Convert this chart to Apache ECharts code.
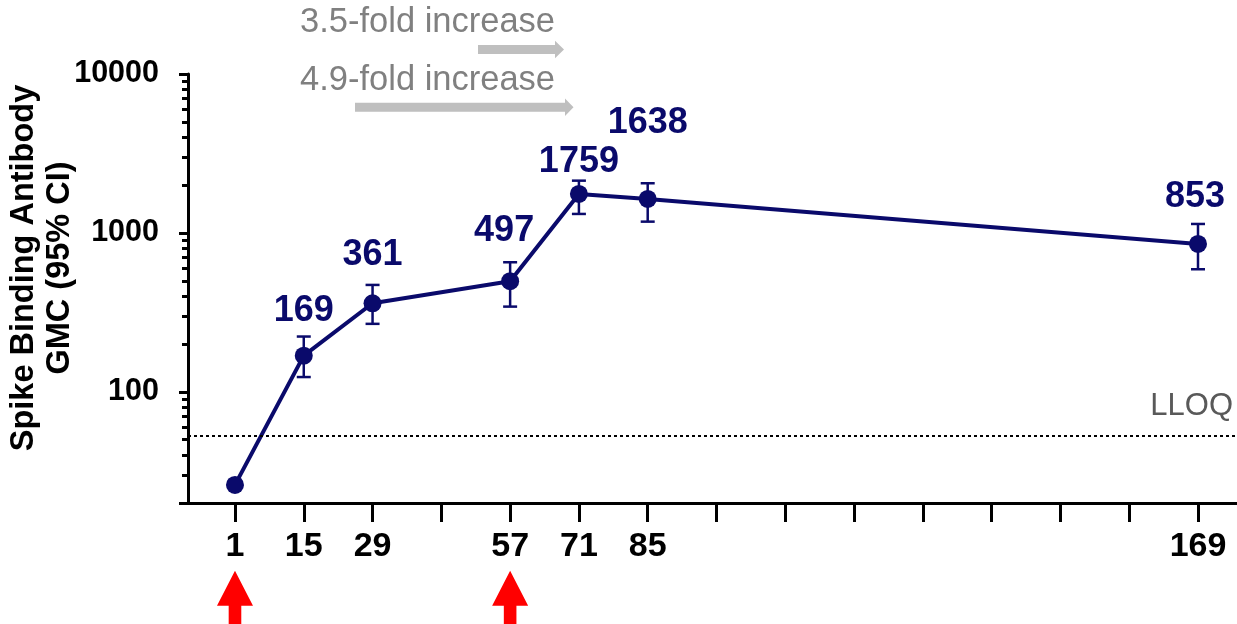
<!DOCTYPE html>
<html>
<head>
<meta charset="utf-8">
<title>Spike Binding Antibody GMC</title>
<script src="https://cdn.jsdelivr.net/npm/echarts@6/dist/echarts.min.js"></script>
<style>
  html, body { margin: 0; padding: 0; background: #ffffff; }
  #chart { width: 1237px; height: 624px; }
</style>
</head>
<body>
<div id="chart"></div>
<script>
// Study days with a blood draw, and the geometric mean concentration at each
const days = [1, 15, 29, 57, 71, 85, 169];
const tickLabels = ['1', '15', '29', '57', '71', '85', '169'];
const gmc = [26, 169, 361, 497, 1759, 1638, 853];
// 95% confidence limits (none drawn for day 1)
const ciLow = [null, 124, 268, 344, 1317, 1178, 591];
const ciHigh = [null, 223, 471, 654, 2133, 2054, 1139];
// Lower limit of quantification
const lloq = 53;
// Vaccination days (red arrows under the axis)
const doseDays = [1, 57];
// Fold-change notes above the plot
const foldNotes = ['3.5-fold increase', '4.9-fold increase'];
// Labelled y values
const yTickValues = [100, 1000, 10000];

const NAVY = '#0a0a6b';
const FONT = '"Liberation Sans", Arial, Helvetica, sans-serif';

// Time axis: one tick every 14 days up to day 85, then 8 equal steps to day 169
const slotOf = d => d <= 85 ? (d - 1) / 14 : 6 + (d - 85) / 10.5;
const tickSlots = Array.from({ length: 15 }, (_, i) => i);
const labelSlots = days.map(slotOf);

// Minor ticks on the log axis: 2..9 within each decade
const minorTicks = [];
for (let p = 1; p <= 3; p++) {
  for (let m = 2; m <= 9; m++) {
    const v = m * Math.pow(10, p);
    if (v > 20 && v < 10000) minorTicks.push(v);
  }
}

// Per-point placement of the value labels (pixels from the marker centre)
const labelOffsets = [[0, 0], [0, -45], [0, -48], [-6, -50], [0, -32], [0, -76], [-3, -47]];

const chart = echarts.init(document.getElementById('chart'), null, { renderer: 'canvas' });

const lineData = days.map((d, i) => ({
  value: [slotOf(d), gmc[i]],
  label: { show: i > 0, offset: labelOffsets[i] }
}));

const ciData = days
  .map((d, i) => [slotOf(d), ciLow[i], ciHigh[i]])
  .filter(r => r[1] != null);

const option = {
  backgroundColor: '#ffffff',
  animation: false,
  grid: { left: 188, right: 0, top: 74, bottom: 121, outerBoundsMode: 'none' },
  xAxis: {
    type: 'value',
    min: -0.683,
    max: 14.567,
    splitLine: { show: false },
    axisLine: { show: true, onZero: false, lineStyle: { color: '#000', width: 3 } },
    axisTick: { show: true, customValues: tickSlots, length: 19, lineStyle: { color: '#000', width: 3 } },
    axisLabel: {
      customValues: labelSlots,
      margin: 27,
      color: '#000',
      fontFamily: FONT,
      fontWeight: 'bold',
      fontSize: 34,
      formatter: v => {
        const i = labelSlots.findIndex(s => Math.abs(s - v) < 1e-6);
        return i >= 0 ? tickLabels[i] : '';
      }
    }
  },
  yAxis: [
    {
      type: 'log',
      logBase: 10,
      min: 20,
      max: 10000,
      splitLine: { show: false },
      axisLine: { show: true, onZero: false, lineStyle: { color: '#000', width: 3 } },
      axisTick: { show: true, customValues: [20].concat(yTickValues), length: 9, lineStyle: { color: '#000', width: 3 } },
      axisLabel: {
        customValues: yTickValues,
        margin: 29,
        color: '#000',
        fontFamily: FONT,
        fontWeight: 'bold',
        fontSize: 30.5,
        formatter: v => String(Math.round(v))
      }
    },
    {
      type: 'log',
      logBase: 10,
      min: 20,
      max: 10000,
      position: 'left',
      splitLine: { show: false },
      axisLine: { show: false, onZero: false },
      axisTick: { show: true, customValues: minorTicks, length: 6, lineStyle: { color: '#000', width: 3 } },
      axisLabel: { show: false }
    }
  ],
  series: [
    {
      name: 'CI',
      type: 'custom',
      z: 2,
      data: ciData,
      renderItem: (params, api) => {
        const x = api.value(0);
        const lo = api.coord([x, api.value(1)]);
        const hi = api.coord([x, api.value(2)]);
        const half = 7;
        const style = { stroke: NAVY, lineWidth: 2.5 };
        return {
          type: 'group',
          children: [
            { type: 'line', shape: { x1: lo[0], y1: lo[1], x2: hi[0], y2: hi[1] }, style },
            { type: 'line', shape: { x1: lo[0] - half, y1: lo[1], x2: lo[0] + half, y2: lo[1] }, style },
            { type: 'line', shape: { x1: hi[0] - half, y1: hi[1], x2: hi[0] + half, y2: hi[1] }, style }
          ]
        };
      }
    },
    {
      name: 'GMC',
      type: 'line',
      z: 3,
      data: lineData,
      symbol: 'circle',
      symbolSize: 18,
      itemStyle: { color: NAVY },
      lineStyle: { color: NAVY, width: 4 },
      label: {
        show: true,
        position: 'inside',
        color: NAVY,
        fontFamily: FONT,
        fontWeight: 'bold',
        fontSize: 36,
        formatter: p => String(gmc[p.dataIndex])
      },
      markLine: {
        silent: true,
        symbol: 'none',
        data: [{ yAxis: lloq }],
        lineStyle: { color: '#000', width: 2, type: [3, 3] },
        label: {
          show: true,
          position: 'insideEndTop',
          formatter: 'LLOQ',
          distance: [4, 14],
          color: '#595959',
          fontFamily: FONT,
          fontSize: 31
        }
      }
    }
  ]
};

chart.setOption(option);

// Annotations: fold-change notes with grey arrows, vaccination arrows under the axis
function arrowRight(x0, x1, tip, yc, shaftHalf, headHalf) {
  return [
    [x0, yc - shaftHalf], [x1, yc - shaftHalf], [x1, yc - headHalf],
    [tip, yc], [x1, yc + headHalf], [x1, yc + shaftHalf], [x0, yc + shaftHalf]
  ];
}
function arrowUp(cx, tipY, baseY, bottomY, shaftHalf, headHalf) {
  return [
    [cx, tipY], [cx + headHalf, baseY], [cx + shaftHalf, baseY], [cx + shaftHalf, bottomY],
    [cx - shaftHalf, bottomY], [cx - shaftHalf, baseY], [cx - headHalf, baseY]
  ];
}

const noteStyle = { fill: '#808080', font: '34.5px ' + FONT, verticalAlign: 'middle' };
const graphics = [
  { type: 'text', x: 300, y: 22.5, style: Object.assign({ text: foldNotes[0] }, noteStyle) },
  { type: 'text', x: 300, y: 80.5, style: Object.assign({ text: foldNotes[1] }, noteStyle) },
  { type: 'polygon', shape: { points: arrowRight(478, 555, 564, 49.5, 4.5, 8.8) }, style: { fill: '#bfbfbf' } },
  { type: 'polygon', shape: { points: arrowRight(355, 565, 573.5, 107.2, 4.5, 8.8) }, style: { fill: '#bfbfbf' } },
  {
    type: 'text', x: 41.8, y: 268, rotation: Math.PI / 2,
    style: {
      text: 'Spike Binding Antibody\nGMC (95% CI)',
      fill: '#000', font: 'bold 32.5px ' + FONT,
      align: 'center', verticalAlign: 'middle', lineHeight: 36
    }
  }
];

doseDays.forEach(d => {
  const cx = chart.convertToPixel({ xAxisIndex: 0 }, slotOf(d));
  graphics.push({
    type: 'polygon',
    shape: { points: arrowUp(cx, 570.7, 605.7, 624, 6.3, 18) },
    style: { fill: '#ff0000' }
  });
});

chart.setOption({ graphic: graphics });
</script>
</body>
</html>
